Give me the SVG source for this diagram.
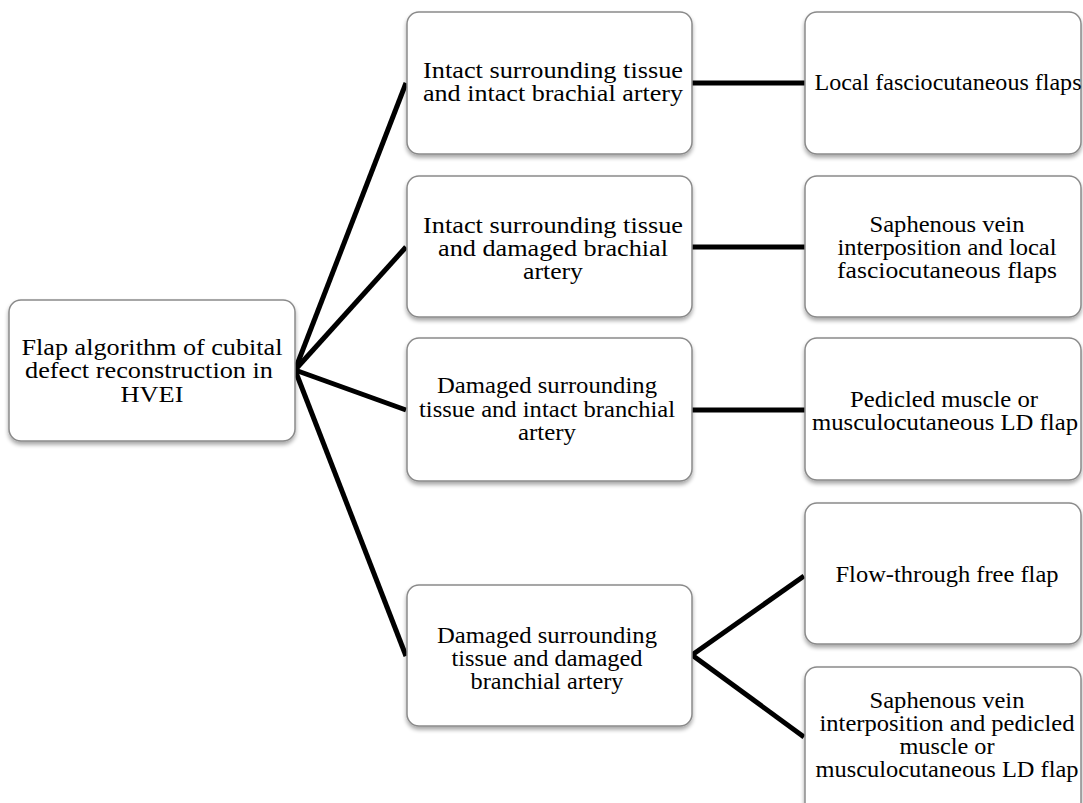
<svg xmlns="http://www.w3.org/2000/svg" width="1083" height="803" viewBox="0 0 1083 803">
<defs>
<filter id="sh" x="-10%" y="-10%" width="120%" height="130%">
<feGaussianBlur in="SourceAlpha" stdDeviation="2"/>
<feOffset dx="0" dy="3" result="b"/>
<feComponentTransfer><feFuncA type="linear" slope="0.35"/></feComponentTransfer>
<feMerge><feMergeNode/><feMergeNode in="SourceGraphic"/></feMerge>
</filter>
</defs>
<style>
.box{fill:#fff;stroke:#8a8a8a;stroke-width:1.5;filter:url(#sh)}
.t{font-family:'Liberation Serif',Tinos,'Times New Roman','DejaVu Serif',serif;font-size:22.5px;fill:#000;text-anchor:middle}
.c{stroke:#000;stroke-width:5;fill:none;stroke-linecap:butt}
</style>
<rect width="1083" height="803" fill="#fff"/>
<g id="connectors">
<line class="c" x1="295" y1="370" x2="406" y2="83"/>
<line class="c" x1="295" y1="370" x2="406" y2="247"/>
<line class="c" x1="295" y1="370" x2="406" y2="410"/>
<line class="c" x1="295" y1="370" x2="406" y2="656"/>
<line class="c" x1="692" y1="83" x2="805" y2="83"/>
<line class="c" x1="692" y1="247" x2="805" y2="247"/>
<line class="c" x1="692" y1="410" x2="805" y2="410"/>
<line class="c" x1="692" y1="655" x2="804" y2="576"/>
<line class="c" x1="692" y1="655" x2="804" y2="737"/>
</g>
<g id="root">
<rect class="box" x="9" y="300" width="286" height="141" rx="12"/>
<text class="t" x="152" y="355" textLength="261" lengthAdjust="spacingAndGlyphs">Flap algorithm of cubital</text>
<text class="t" x="149" y="378" textLength="248" lengthAdjust="spacingAndGlyphs">defect reconstruction in</text>
<text class="t" x="152" y="402" textLength="63" lengthAdjust="spacingAndGlyphs">HVEI</text>
</g>
<g id="m1">
<rect class="box" x="407" y="12" width="285" height="142" rx="12"/>
<text class="t" x="553" y="78" textLength="260" lengthAdjust="spacingAndGlyphs">Intact surrounding tissue</text>
<text class="t" x="553" y="101" textLength="260" lengthAdjust="spacingAndGlyphs">and intact brachial artery</text>
</g>
<g id="m2">
<rect class="box" x="407" y="176" width="285" height="141" rx="12"/>
<text class="t" x="553" y="233" textLength="260" lengthAdjust="spacingAndGlyphs">Intact surrounding tissue</text>
<text class="t" x="553" y="256" textLength="230" lengthAdjust="spacingAndGlyphs">and damaged brachial</text>
<text class="t" x="553" y="279" textLength="60" lengthAdjust="spacingAndGlyphs">artery</text>
</g>
<g id="m3">
<rect class="box" x="407" y="338" width="285" height="143" rx="12"/>
<text class="t" x="547" y="393" textLength="220" lengthAdjust="spacingAndGlyphs">Damaged surrounding</text>
<text class="t" x="547" y="417" textLength="256" lengthAdjust="spacingAndGlyphs">tissue and intact branchial</text>
<text class="t" x="547" y="440" textLength="58" lengthAdjust="spacingAndGlyphs">artery</text>
</g>
<g id="m4">
<rect class="box" x="407" y="585" width="285" height="141" rx="12"/>
<text class="t" x="547" y="643" textLength="220" lengthAdjust="spacingAndGlyphs">Damaged surrounding</text>
<text class="t" x="547" y="666" textLength="191" lengthAdjust="spacingAndGlyphs">tissue and damaged</text>
<text class="t" x="547" y="689" textLength="153" lengthAdjust="spacingAndGlyphs">branchial artery</text>
</g>
<g id="r1">
<rect class="box" x="805" y="12" width="276" height="142" rx="12"/>
<text class="t" x="948" y="90" textLength="267" lengthAdjust="spacingAndGlyphs">Local fasciocutaneous flaps</text>
</g>
<g id="r2">
<rect class="box" x="805" y="176" width="276" height="141" rx="12"/>
<text class="t" x="947" y="232" textLength="155" lengthAdjust="spacingAndGlyphs">Saphenous vein</text>
<text class="t" x="947" y="255" textLength="219" lengthAdjust="spacingAndGlyphs">interposition and local</text>
<text class="t" x="947" y="278" textLength="220" lengthAdjust="spacingAndGlyphs">fasciocutaneous flaps</text>
</g>
<g id="r3">
<rect class="box" x="805" y="338" width="276" height="142" rx="12"/>
<text class="t" x="944" y="407" textLength="188" lengthAdjust="spacingAndGlyphs">Pedicled muscle or</text>
<text class="t" x="945" y="430" textLength="266" lengthAdjust="spacingAndGlyphs">musculocutaneous LD flap</text>
</g>
<g id="r4">
<rect class="box" x="805" y="503" width="276" height="141" rx="12"/>
<text class="t" x="947" y="582" textLength="223" lengthAdjust="spacingAndGlyphs">Flow-through free flap</text>
</g>
<g id="r5">
<rect class="box" x="805" y="667" width="276" height="150" rx="12"/>
<text class="t" x="947" y="708" textLength="155" lengthAdjust="spacingAndGlyphs">Saphenous vein</text>
<text class="t" x="947" y="731" textLength="255" lengthAdjust="spacingAndGlyphs">interposition and pedicled</text>
<text class="t" x="947" y="754" textLength="95" lengthAdjust="spacingAndGlyphs">muscle or</text>
<text class="t" x="947" y="777" textLength="263" lengthAdjust="spacingAndGlyphs">musculocutaneous LD flap</text>
</g>
</svg>
